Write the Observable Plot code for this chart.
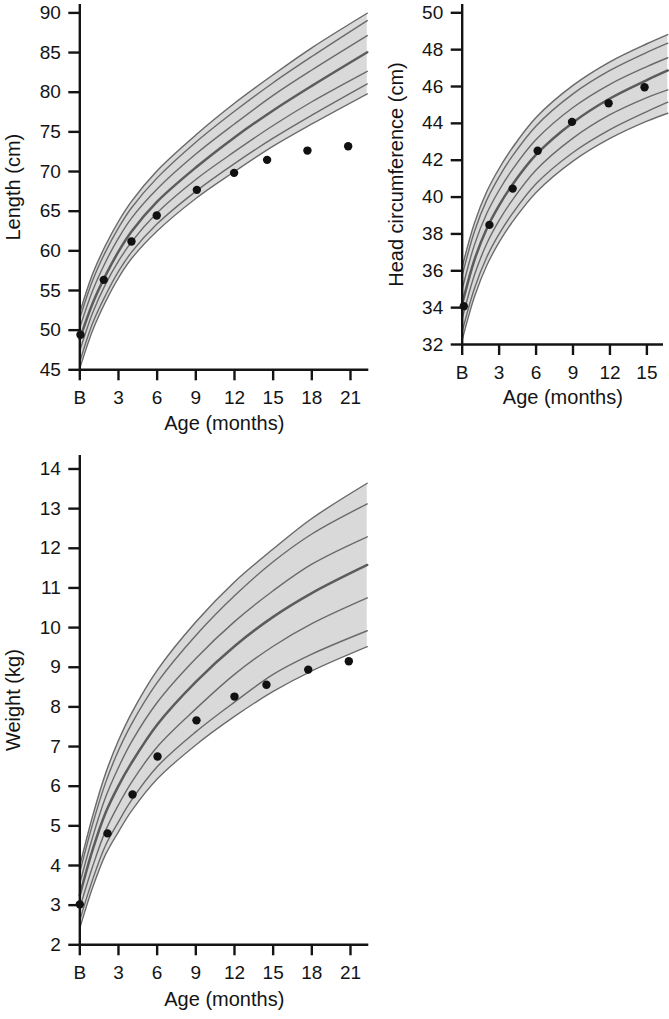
<!DOCTYPE html>
<html><head><meta charset="utf-8">
<script src="https://cdn.jsdelivr.net/npm/d3@7"></script>
<script src="https://cdn.jsdelivr.net/npm/@observablehq/plot@0.6"></script>
<style>
body{margin:0;background:#fff;}
#wrap{position:relative;width:669px;height:1019px;background:#fff;}
.panel{position:absolute;}
.panel g[aria-label="x-axis tick label"], .panel g[aria-label="y-axis tick label"]{font-size:19px;}
</style></head><body><div id="wrap"></div>
<script>
// ---------- data ----------
const percentileNames = ["5th","10th","25th","50th","75th","90th","95th"];

// Length (cm)
const lengthAges = [0, 1, 2, 3, 4, 6, 9, 12, 15, 18, 22.3];
const lengthP05 = [45.2, 50.0, 53.6, 56.6, 59.0, 62.5, 66.6, 70.0, 73.2, 76.0, 79.8];
const lengthP10 = [46.0, 50.9, 54.4, 57.4, 59.8, 63.4, 67.5, 71.0, 74.2, 77.1, 81.05];
const lengthP25 = [47.4, 52.2, 55.8, 58.7, 61.1, 64.8, 69.0, 72.5, 75.8, 78.8, 82.64];
const lengthP50 = [48.9, 53.4, 56.9, 59.9, 62.4, 66.2, 70.5, 74.3, 77.7, 80.8, 85.04];
const lengthP75 = [50.3, 55.0, 58.6, 61.6, 64.1, 67.8, 72.2, 76.0, 79.6, 82.8, 87.14];
const lengthP90 = [51.5, 56.3, 59.9, 62.9, 65.4, 69.2, 73.7, 77.6, 81.2, 84.5, 89.03];
const lengthP95 = [52.2, 57.1, 60.7, 63.7, 66.2, 70.1, 74.6, 78.6, 82.2, 85.6, 89.96];
const lengthVisitAge = [0.05, 1.86, 4.01, 5.97, 9.08, 11.97, 14.53, 17.66, 20.82];
const lengthVisitValue = [49.41, 56.34, 61.17, 64.45, 67.69, 69.83, 71.47, 72.64, 73.19];

// Head circumference (cm)
const headAges = [0, 1, 2, 3, 4, 6, 9, 12, 15, 16.7];
const headP05 = [32.25, 34.6, 36.3, 37.55, 38.58, 40.25, 41.95, 43.18, 44.12, 44.55];
const headP10 = [32.7, 35.05, 36.75, 38.0, 39.03, 40.72, 42.42, 43.66, 44.64, 45.15];
const headP25 = [33.4, 35.78, 37.48, 38.73, 39.77, 41.47, 43.2, 44.47, 45.4, 45.82];
const headP50 = [34.2, 36.6, 38.3, 39.55, 40.6, 42.3, 44.05, 45.35, 46.35, 46.87];
const headP75 = [35.0, 37.42, 39.12, 40.37, 41.42, 43.12, 44.86, 46.12, 47.08, 47.56];
const headP90 = [35.75, 38.15, 39.85, 41.1, 42.15, 43.86, 45.6, 46.87, 47.85, 48.35];
const headP95 = [36.2, 38.6, 40.3, 41.55, 42.6, 44.32, 46.06, 47.34, 48.32, 48.82];
const headVisitAge = [0.13, 2.21, 4.1, 6.13, 8.92, 11.89, 14.81];
const headVisitValue = [34.08, 38.49, 40.46, 42.51, 44.08, 45.09, 45.96];

// Weight (kg)
const weightAges = [0, 1, 2, 3, 4, 6, 9, 12, 15, 18, 22.3];
const weightP05 = [2.42, 3.45, 4.28, 4.85, 5.37, 6.18, 7.04, 7.76, 8.39, 8.91, 9.52];
const weightP10 = [2.62, 3.65, 4.51, 5.10, 5.64, 6.49, 7.37, 8.12, 8.82, 9.33, 9.92];
const weightP25 = [2.93, 3.98, 4.88, 5.53, 6.09, 6.99, 7.95, 8.82, 9.53, 10.10, 10.75];
const weightP50 = [3.25, 4.40, 5.33, 6.01, 6.58, 7.55, 8.63, 9.53, 10.27, 10.87, 11.58];
const weightP75 = [3.55, 4.72, 5.72, 6.47, 7.11, 8.11, 9.22, 10.15, 10.93, 11.60, 12.29];
const weightP90 = [3.83, 5.05, 6.09, 6.90, 7.56, 8.61, 9.80, 10.80, 11.66, 12.36, 13.12];
const weightP95 = [3.99, 5.25, 6.32, 7.15, 7.83, 8.92, 10.14, 11.15, 11.98, 12.75, 13.64];
const weightVisitAge = [0, 2.15, 4.09, 6.03, 9.05, 12.0, 14.48, 17.72, 20.87];
const weightVisitValue = [3.02, 4.81, 5.79, 6.75, 7.66, 8.26, 8.56, 8.94, 9.15];

// ticks
const ageTicksLong = [0, 3, 6, 9, 12, 15, 18, 21];
const ageTicksShort = [0, 3, 6, 9, 12, 15];
const lengthTicks = [45, 50, 55, 60, 65, 70, 75, 80, 85, 90];
const headTicks = [32, 34, 36, 38, 40, 42, 44, 46, 48, 50];
const weightTicks = [2, 3, 4, 5, 6, 7, 8, 9, 10, 11, 12, 13, 14];

// ---------- drawing ----------
const FONT = "'Liberation Sans', Arial, Helvetica, sans-serif";
const INK = "#141414";
const CURVE = "catmull-rom";

function panel(cfg) {
  const bands = [cfg.p05, cfg.p10, cfg.p25, cfg.p50, cfg.p75, cfg.p90, cfg.p95];
  const wide = cfg.ages.map((a, i) => ({age: a, lo: cfg.p05[i], hi: cfg.p95[i]}));
  const long = [];
  bands.forEach((arr, k) => arr.forEach((v, i) => long.push({age: cfg.ages[i], value: v, pct: percentileNames[k]})));
  const visits = cfg.visitAge.map((a, i) => ({age: a, value: cfg.visitValue[i]}));
  const xMax = cfg.xDomain[1], yMin = cfg.yDomain[0], yMax = cfg.yDomain[1];
  return Plot.plot({
    width: cfg.width, height: cfg.height,
    marginLeft: cfg.ml, marginRight: cfg.mr, marginTop: cfg.mt, marginBottom: cfg.mb,
    style: {fontFamily: FONT, fontSize: "19px", color: INK, background: "transparent", overflow: "visible"},
    x: {domain: cfg.xDomain},
    y: {domain: cfg.yDomain},
    marks: [
      Plot.areaY(wide, {x: "age", y1: "lo", y2: "hi", fill: "#d9d9d9", curve: CURVE}),
      Plot.line(long.filter(d => d.pct !== "50th"), {x: "age", y: "value", z: "pct", stroke: "#6a6a6a", strokeWidth: 1.4, curve: CURVE}),
      Plot.line(long.filter(d => d.pct === "50th"), {x: "age", y: "value", stroke: "#5c5c5c", strokeWidth: 2.5, curve: CURVE}),
      Plot.ruleX([0], {y1: yMin, y2: yMax, stroke: INK, strokeWidth: 2.4}),
      Plot.ruleY([yMin], {x1: 0, x2: xMax, stroke: INK, strokeWidth: 2.4}),
      Plot.axisX({ticks: cfg.xTicks, tickFormat: d => d === 0 ? "B" : String(d), tickSize: 11, tickPadding: 10, strokeWidth: 2.4, stroke: INK, fill: INK, fontSize: 19, label: null}),
      Plot.axisY({ticks: cfg.yTicks, tickSize: 11, tickPadding: 8, strokeWidth: 2.4, stroke: INK, fill: INK, fontSize: 19, label: null}),
      Plot.dot(visits, {x: "age", y: "value", r: 4.2, fill: "#111", stroke: "none"}),
      Plot.text(["Age (months)"], {text: d => d, frameAnchor: "bottom", textAnchor: "middle", dy: cfg.xTitleDy, fontSize: 20, fill: INK}),
      Plot.text([cfg.yLabel], {text: d => d, frameAnchor: "left", textAnchor: "middle", rotate: -90, dx: cfg.yTitleDx, fontSize: 20, fill: INK})
    ]
  });
}

const wrap = document.getElementById("wrap");
function place(svg, left, top) {
  const d = document.createElement("div");
  d.className = "panel";
  d.style.left = left + "px";
  d.style.top = top + "px";
  d.appendChild(svg);
  wrap.appendChild(d);
}

place(panel({
  ages: lengthAges, p05: lengthP05, p10: lengthP10, p25: lengthP25, p50: lengthP50, p75: lengthP75, p90: lengthP90, p95: lengthP95,
  visitAge: lengthVisitAge, visitValue: lengthVisitValue,
  xDomain: [0, 22.42], yDomain: [45, 91.06], xTicks: ageTicksLong, yTicks: lengthTicks, yLabel: "Length (cm)",
  width: 380, height: 440, ml: 79.3, mr: 11.7, mt: 4, mb: 70.7, xTitleDy: 60, yTitleDx: -66
}), 0, 0);

place(panel({
  ages: headAges, p05: headP05, p10: headP10, p25: headP25, p50: headP50, p75: headP75, p90: headP90, p95: headP95,
  visitAge: headVisitAge, visitValue: headVisitValue,
  xDomain: [0, 16.35], yDomain: [32, 50.45], xTicks: ageTicksShort, yTicks: headTicks, yLabel: "Head circumference (cm)",
  width: 289, height: 420, ml: 81.7, mr: 6, mt: 4, mb: 76, xTitleDy: 59, yTitleDx: -66
}), 380, 0);

place(panel({
  ages: weightAges, p05: weightP05, p10: weightP10, p25: weightP25, p50: weightP50, p75: weightP75, p90: weightP90, p95: weightP95,
  visitAge: weightVisitAge, visitValue: weightVisitValue,
  xDomain: [0, 22.42], yDomain: [2, 14.34], xTicks: ageTicksLong, yTicks: weightTicks, yLabel: "Weight (kg)",
  width: 380, height: 579, ml: 79.3, mr: 11.7, mt: 15, mb: 74.7, xTitleDy: 61.5, yTitleDx: -66
}), 0, 440);
</script>
</body></html>
